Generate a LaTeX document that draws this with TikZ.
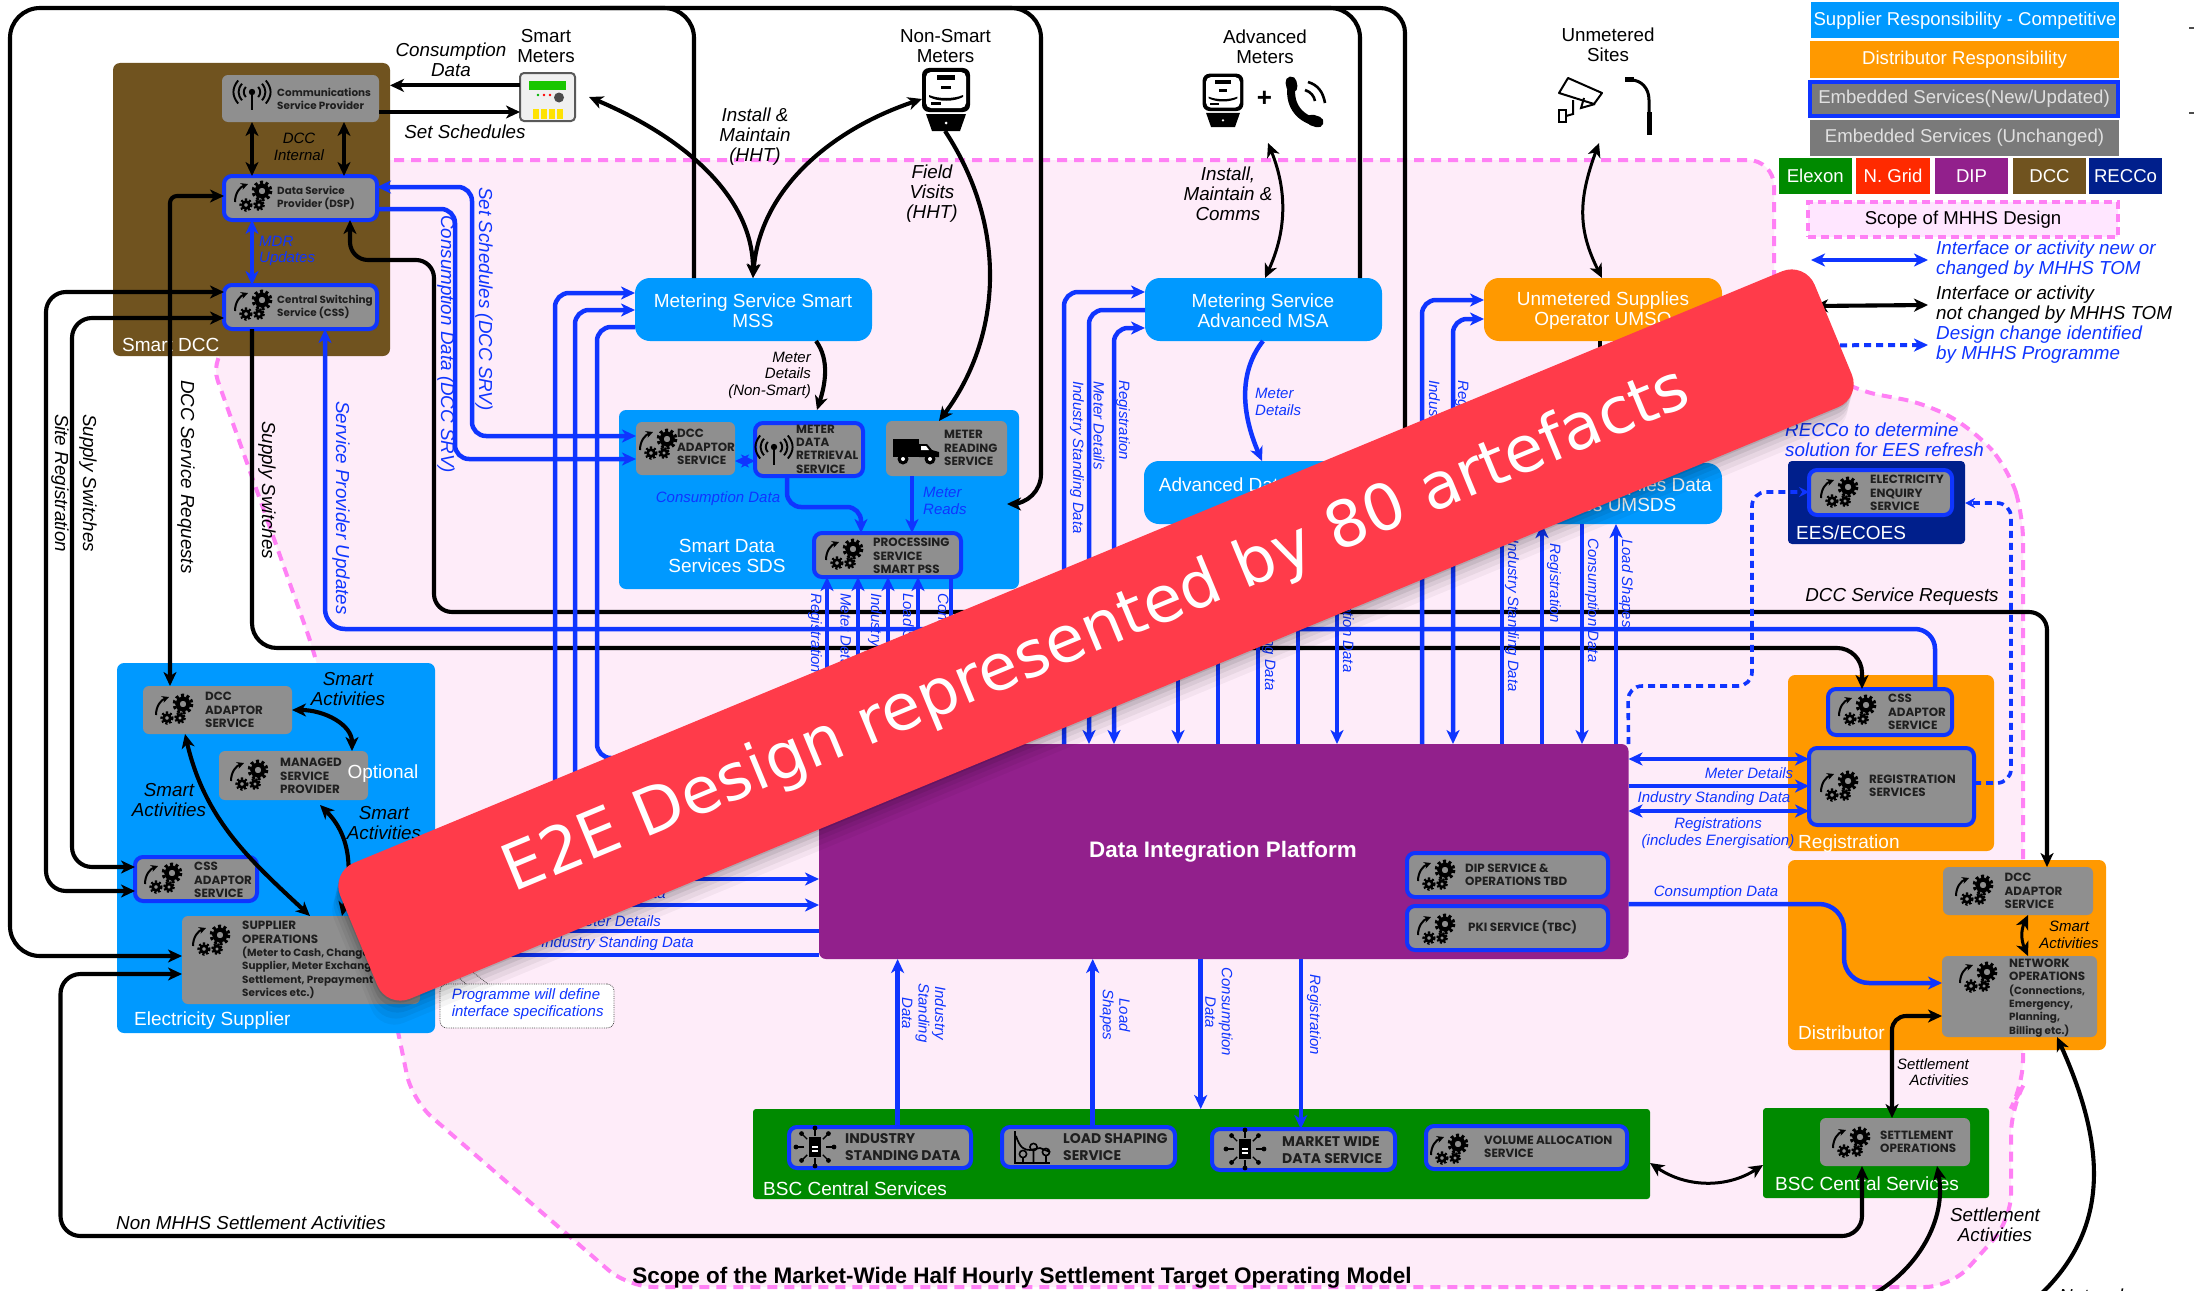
\documentclass[tikz,border=0pt]{standalone}
\usepackage{fontspec}
\setmainfont{Liberation Sans}
\newfontfamily\svcf{Poppins}
\newfontfamily\banf{DejaVu Sans}
\usetikzlibrary{arrows.meta,calc,shapes.geometric}
\definecolor{mblue}{HTML}{0099FF}
\definecolor{morange}{HTML}{FF9900}
\definecolor{sgray}{HTML}{8F8F8F}
\definecolor{lblue}{HTML}{0F35FF}
\definecolor{mbrown}{HTML}{70531F}
\definecolor{mpurple}{HTML}{92208C}
\definecolor{mgreen}{HTML}{008A00}
\definecolor{mnavy}{HTML}{001F8C}
\definecolor{mred}{HTML}{FF2A00}
\definecolor{scopefill}{HTML}{FEECF9}
\definecolor{legfill}{HTML}{FFE6FF}
\definecolor{scopeline}{HTML}{FF80F5}
\definecolor{banred}{HTML}{FF3B4A}
\newcommand\fsz[2]{\fontsize{#1pt}{#2pt}\selectfont}
\newcommand\cp[1]{{\fontsize{11.9pt}{13.4pt}\selectfont #1}}
\newcommand\bx[6]{\node[#6,minimum width={(#4-#2)*1pt},minimum height={(#5-#3)*1pt},inner sep=0pt,outer sep=0pt] (#1) at ({(#2+#4)/2},{(#3+#5)/2}) {};}
\tikzset{
  >={Stealth[length=14pt,width=13pt,inset=4pt]},
  blk/.style={line width=4.1pt,draw=black},
  blu/.style={line width=4.5pt,draw=lblue},
  dblu/.style={line width=3.6pt,draw=lblue,dash pattern=on 7pt off 5pt},
  cont/.style={rounded corners=7pt},
  svc/.style={fill=sgray,rounded corners=6pt},
  svn/.style={fill=sgray,draw=lblue,line width=4pt,rounded corners=8pt},
  wlab/.style={text=white,font=\fsz{19}{20},align=center,inner sep=0pt},
  wleft/.style={wlab,anchor=west},
  il/.style={font=\fsz{18.8}{20}\itshape,align=center,inner sep=0pt},
  sl/.style={font=\fsz{15}{16.5}\itshape,align=center,inner sep=0pt},
  bl/.style={il,text=lblue},
  bs/.style={sl,text=lblue},
  rv/.style={rotate=-90,anchor=west},
  rc/.style={rotate=-90,anchor=center},
  svct/.style={font=\svcf\bfseries\fsz{10.4}{13.4},anchor=west,align=left,inner sep=0pt,text=black!88},
  svcb/.style={font=\svcf\bfseries\fsz{14}{16.5},anchor=west,align=left,inner sep=0pt,text=black!88},
  legt/.style={font=\fsz{18.6}{20},inner sep=0pt,text=#1},
  gearicon/.pic={
    \draw[line width=3.2pt,dash pattern=on 3pt off 2.6pt] (0,0) circle (8.8);
    \draw[line width=4.2pt] (0,0) circle (5.6);
    \draw[line width=2.2pt,dash pattern=on 2.2pt off 1.9pt] (-16,14) circle (5.6);
    \draw[line width=2.8pt] (-16,14) circle (3.4);
    \draw[line width=2.1pt,dash pattern=on 2.1pt off 1.8pt] (-3,14) circle (5);
    \draw[line width=2.6pt] (-3,14) circle (3);
    \draw[line width=2pt,-{Stealth[length=7pt,width=7pt]}] (-27,11) .. controls (-27,2) and (-22,-4) .. (-14,-7);
  },
  antenna/.pic={
    \fill (0,-3) circle (3.2);
    \draw[line width=1.9pt] (0,-3) -- (0,15);
    \foreach \r in {8,13,18}{
      \draw[line width=1.9pt] (\r*0.77,-3-\r*0.64) .. controls (\r*1.12,-3-\r*0.2) and (\r*1.12,-3+\r*0.2) .. (\r*0.77,-3+\r*0.64);
      \draw[line width=1.9pt] (-\r*0.77,-3-\r*0.64) .. controls (-\r*1.12,-3-\r*0.2) and (-\r*1.12,-3+\r*0.2) .. (-\r*0.77,-3+\r*0.64);
    }
  },
  vanicon/.pic={
    \fill (-23,-11) rectangle (3,7);
    \fill (3,-6) -- (11,-6) -- (16,0) -- (23,2) -- (23,7) -- (3,7) -- cycle;
    \fill[white] (5,-4) -- (10,-4) -- (13,0) -- (5,0) -- cycle;
    \fill (-13,9) circle (5.5);\fill[white] (-13,9) circle (2);
    \fill (14,9) circle (5.5);\fill[white] (14,9) circle (2);
  },
  metericon/.pic={
    \fill[rounded corners=7pt] (-24,-31) rectangle (24,13);
    \fill[white,rounded corners=5pt] (-20,-27) rectangle (20,9);
    \fill (-9,-24) rectangle (9,-19);
    \fill (-5,-13) rectangle (5,-10);
    \fill (-17,-4) .. controls (-8,0) and (8,0) .. (17,-4) -- (17,-2) .. controls (8,3) and (-8,3) .. (-17,-2) -- cycle;
    \fill (-15,3) rectangle (-5,6);
    \fill (-20,15) -- (20,15) -- (14,32) -- (-14,32) -- cycle;
    \fill[white] (0,24) circle (1.5);
  },
  doc/.pic={
    \foreach \a in {0,45,...,315}{
      \draw[line width=1.4pt] (\a:11) -- (\a:19);
      \fill (\a:19) circle (2.4);
    }
    \fill (-6,-10) rectangle (6,10);
    \fill[white] (-3,-1) rectangle (3,1);
    \fill[white] (-3,3) rectangle (3,5);
  }
}
\begin{document}
\begin{tikzpicture}[x=1pt,y=-1pt]
\useasboundingbox (0,0) rectangle (2194,1290);
\fill[white] (0,0) rectangle (2194,1290);
% scope
\draw[fill=scopefill,draw=scopeline,line width=4pt,dash pattern=on 10pt off 7pt,rounded corners=26pt]
  (300,160) -- (1774,160) -- (1774,340) -- (1853,390) -- (1928,404) -- (1975,431) -- (2008,468) -- (2023,514) -- (2023,1086) -- (2011,1108) -- (2011,1220) -- (1951,1287) -- (628,1287) -- (412,1100) -- (399,1036) -- (316,657) -- (209,356) -- (300,300) -- cycle;
\node[font=\fsz{22.5}{24}\bfseries,inner sep=0pt] (scopetitle) at (1022,1278) {Scope of the Market-Wide Half Hourly Settlement Target Operating Model};
% containers
\bx{dcc}{113}{63}{390}{356}{cont,fill=mbrown}
\bx{sds}{619}{410}{1019}{589}{cont,fill=mblue}
\bx{sup}{117}{663}{435}{1033}{cont,fill=mblue}
\bx{dip}{819}{744}{1628.5}{959}{cont,fill=mpurple}
\bx{bscl}{753}{1109}{1650}{1199}{rounded corners=3pt,fill=mgreen}
\bx{bscr}{1763}{1108}{1989}{1198}{rounded corners=3pt,fill=mgreen}
\bx{reg}{1788}{675}{1994}{851}{cont,fill=morange}
\bx{dist}{1788}{860}{2106}{1050}{cont,fill=morange}
\bx{ees}{1788}{461}{1965}{544}{rounded corners=4pt,fill=mnavy}
\bx{mss}{635}{278}{872}{341}{rounded corners=15pt,fill=mblue}
\bx{msa}{1145}{278}{1382}{341}{rounded corners=15pt,fill=mblue}
\bx{umso}{1484}{278}{1722}{341}{rounded corners=15pt,fill=morange}
\bx{ads}{1144}{461}{1382}{524}{rounded corners=15pt,fill=mblue}
\bx{umsds}{1484}{463}{1722}{524}{rounded corners=15pt,fill=mblue}
\node[wlab] (tmss) at (753,311) {Metering Service Smart\\MSS};
\node[wlab] (tmsa) at (1263,311) {Metering Service\\Advanced MSA};
\node[wlab] (tumso) at (1603,311) {Unmetered Supplies\\Operator UMSO};
\node[wlab] (tads) at (1263,485) {Advanced Data Services};
\node[wlab] (tumsds) at (1603,495) {Unmetered Supplies Data\\Services UMSDS};
\node[wlab] (tsds) at (727,556) {Smart Data\\Services SDS};
\node[wleft] (tdcc) at (122,345) {Smart DCC};
\node[wleft] (tsup) at (134,1021) {Electricity Supplier};
\node[wleft] (treg) at (1798,844) {Registration};
\node[wleft] (tdist) at (1798,1033) {Distributor};
\node[wleft] (tees) at (1796,533) {EES/ECOES};
\node[wleft] (tbscl) at (763,1189) {BSC Central Services};
\node[wleft] (tbscr) at (1775,1184) {BSC Central Services};
\node[text=white,font=\fsz{22.4}{24}\bfseries,inner sep=0pt] (tdip) at (1223,852) {Data Integration Platform};
% services
\bx{csp}{222}{75}{379}{122}{svc}
\bx{dsp}{224}{176}{377}{220}{svn}
\bx{css}{224}{285}{377}{329}{svn}
\bx{sdcc}{636}{422}{735}{475}{svc}
\bx{mdr}{755}{423}{863}{476}{svn}
\bx{mrs}{886}{421}{1007}{476}{svc}
\bx{pss}{814}{533}{961}{577}{svn}
\bx{edcc}{143}{686}{292}{734}{svc}
\bx{msp}{219}{751}{368}{800}{svc}
\bx{ecss}{135}{857}{257}{901}{svn}
\bx{sops}{182}{916}{420}{1004}{svc}
\bx{dips}{1407}{853}{1608}{897}{svn}
\bx{pki}{1407}{906}{1608}{950}{svn}
\bx{isd}{789}{1127}{971}{1168}{svn}
\bx{lss}{1002}{1127}{1175}{1167}{svn}
\bx{mwd}{1212}{1129}{1395}{1170}{svn}
\bx{vas}{1426}{1126}{1627}{1169}{svn}
\bx{setops}{1820}{1118}{1970}{1166}{svc}
\bx{cssreg}{1828}{689}{1952}{735}{svn}
\bx{regs}{1809}{748}{1974}{825}{svn}
\bx{dadapt}{1943}{867}{2093}{915}{svc}
\bx{netops}{1942}{956}{2097}{1037}{svc}
\bx{eess}{1809}{470}{1952}{515}{svn}
% service text
\node[svct] (tcsp) at (277,99) {Communications\\Service Provider};
\node[svct] (tdsp) at (277,198) {Data Service\\Provider (DSP)};
\node[svct] (tcss) at (277,307) {Central Switching\\Service (CSS)};
\node[svct] (tsdcc) at (677,447) {\cp{DCC}\\\cp{ADAPTOR}\\\cp{SERVICE}};
\node[svct] (tmdr) at (796,449) {\cp{METER}\\\cp{DATA}\\\cp{RETRIEVAL}\\\cp{SERVICE}};
\node[svct] (tmrs) at (944,448) {\cp{METER}\\\cp{READING}\\\cp{SERVICE}};
\node[svct] (tpss) at (873,556) {\cp{PROCESSING}\\\cp{SERVICE}\\\cp{SMART PSS}};
\node[svct] (tedcc) at (205,710) {\cp{DCC}\\\cp{ADAPTOR}\\\cp{SERVICE}};
\node[svct] (tmsp) at (280,776) {\cp{MANAGED}\\\cp{SERVICE}\\\cp{PROVIDER}};
\node[svct] (tecss) at (194,880) {\cp{CSS}\\\cp{ADAPTOR}\\\cp{SERVICE}};
\node[svct] (tsops) at (242,960) {\cp{SUPPLIER}\\\cp{OPERATIONS}\\(Meter to Cash, Change of\\Supplier, Meter Exchange,\\Settlement, Prepayment\\Services etc.)};
\node[svct] (tdips) at (1465,875) {\cp{DIP SERVICE \&}\\\cp{OPERATIONS TBD}};
\node[svct] (tpki) at (1468,927) {\cp{PKI SERVICE (TBC)}};
\node[svcb] (tisd) at (845,1147) {INDUSTRY\\STANDING DATA};
\node[svcb] (tlss) at (1063,1147) {LOAD SHAPING\\SERVICE};
\node[svcb] (tmwd) at (1282,1150) {MARKET WIDE\\DATA SERVICE};
\node[svct] (tvas) at (1484,1147) {\cp{VOLUME ALLOCATION}\\\cp{SERVICE}};
\node[svct] (tsetops) at (1880,1142) {\cp{SETTLEMENT}\\\cp{OPERATIONS}};
\node[svct] (tcssreg) at (1888,712) {\cp{CSS}\\\cp{ADAPTOR}\\\cp{SERVICE}};
\node[svct] (tregs) at (1869,786) {\cp{REGISTRATION}\\\cp{SERVICES}};
\node[svct] (tdadapt) at (2004.5,891) {\cp{DCC}\\\cp{ADAPTOR}\\\cp{SERVICE}};
\node[svct] (tnetops) at (2009,998) {\cp{NETWORK}\\\cp{OPERATIONS}\\(Connections,\\Emergency,\\Planning,\\Billing etc.)};
\node[svct] (teess) at (1870,493) {\cp{ELECTRICITY}\\\cp{ENQUIRY}\\\cp{SERVICE}};
% icons
\pic at (252,95) {antenna};
\pic at (262,191) {gearicon};
\pic at (262,300) {gearicon};
\pic at (667,439) {gearicon};
\pic at (774,450) {antenna};
\pic at (916,450) {vanicon};
\pic at (853,549) {gearicon};
\pic at (183,704) {gearicon};
\pic at (258,770) {gearicon};
\pic at (172,873) {gearicon};
\pic at (220,935) {gearicon};
\pic at (1445,870) {gearicon};
\pic at (1445,924) {gearicon};
\pic at (815,1147) {doc};
\pic at (1245,1149) {doc};
\pic at (1458,1144) {gearicon};
\pic at (1860,1137) {gearicon};
\pic at (1866,705) {gearicon};
\pic at (1848,781) {gearicon};
\pic at (1983,885) {gearicon};
\pic at (1987,972) {gearicon};
\pic at (1848,487) {gearicon};
% load shaping icon
\draw[line width=1.7pt] (1015,1131) -- (1015,1163) -- (1050,1163);
\draw[line width=1.7pt] (1016,1136) .. controls (1020,1148) and (1024,1150) .. (1030,1150) -- (1040,1148) -- (1050,1152);
\foreach \cx/\cy in {1023/1154,1033.5/1147,1046/1152}{\draw[line width=1.6pt] (\cx,\cy) circle (3.6) (\cx,\cy+3.6) -- (\cx,1163);}
% meters and sites
\bx{smeter}{520}{73}{575}{121}{fill=black!6,draw=black!65,line width=2pt,rounded corners=4pt}
\fill[green!75!black!90!yellow] (529,81) rectangle (566,90);
\fill[red] (544,95) circle (1.3) (550,95) circle (1.3);
\fill[green!70!black] (538,95) circle (1.3);
\fill[black!70] (559,97.5) circle (5);
\foreach \x in {533,541,549,557}{\fill[yellow!85!orange] (\x,109) rectangle (\x+6,119);}
\node[font=\fsz{18.8}{20},align=center,inner sep=0pt] (tsm) at (546,46.5) {Smart\\Meters};
\bx{nsm}{922}{68}{971}{131}{}
\pic at (946,99) {metericon};
\node[font=\fsz{18.8}{20},align=center,inner sep=0pt] (tnsm) at (945.5,46.5) {Non-Smart\\Meters};
\bx{advm}{1202}{74}{1326}{126}{}
\pic[scale=.85] at (1223,100) {metericon};
\node[font=\fsz{26}{26}\bfseries,inner sep=0pt] (plus) at (1264.5,99) {+};
\draw[line width=8pt,line cap=round] (1292,84) .. controls (1288,103) and (1298,118) .. (1316,122);
\draw[line width=11pt,line cap=round] (1291,82) -- (1292,87) (1312,120) -- (1318,122);
\draw[line width=2.6pt] (1305,90) .. controls (1311,92) and (1314,96) .. (1315,101);
\draw[line width=2.6pt] (1308,82) .. controls (1318,85) and (1323,92) .. (1325,103);
\node[font=\fsz{18.8}{20},align=center,inner sep=0pt] (tadv) at (1265,46.5) {Advanced\\Meters};
\bx{sites}{1557}{78}{1652}{135}{}
\draw[line width=2pt,line join=round] (1558,78) ++(10,0) -- (1602,93) -- (1594,104) -- (1559,93) -- cycle;
\draw[line width=2pt] (1584,98) -- (1581,108) -- (1595,104);
\draw[line width=2pt] (1573,100) -- (1573,114) -- (1566,116);
\draw[line width=2pt] (1559,110) rectangle (1566,122);
\draw[line width=3pt] (1649,112) -- (1649,100) .. controls (1649,88) and (1641,80) .. (1631,80);
\draw[line width=5pt] (1649,112) -- (1649,135);
\fill (1625,77) rectangle (1634,82);
\node[font=\fsz{18.8}{20},align=center,inner sep=0pt] (tsites) at (1608,45) {Unmetered\\Sites};
% connectors: black
\draw[blk,<-,rounded corners=30pt] (sops.west |- 0,956) -- (10,956) -- (10,8) -- (694,8) -- (694,0 |- mss.north);
\draw[blk,<-,rounded corners=30pt] (mrs.east |- 0,504) -- (1041,504) -- (1041,8) -- (600,8);
\draw[blk,rounded corners=30pt] (1360,0 |- msa.north) -- (1360,8) -- (900,8);
\draw[blk,rounded corners=25pt] (1405,450) -- (1405,8) -- (1200,8);
\draw[blk,<->,rounded corners=18pt] (350,0 |- dsp.south) -- (350,260) -- (434,260) -- (434,612) -- (2047,612) -- (2047,0 |- dadapt.north);
\draw[blk,->,rounded corners=25pt] (252,0 |- css.south) -- (252,648) -- (1862,648) -- (1862,0 |- cssreg.north);
\draw[blk,<->,rounded corners=7pt] (dsp.west |- 0,196) -- (170,196) -- (170,0 |- edcc.north);
\draw[blk,<->,rounded corners=20pt] (css.west |- 0,292) -- (46,292) -- (46,891) -- (ecss.west |- 0,891);
\draw[blk,<->,rounded corners=20pt] (css.west |- 0,318) -- (72,318) -- (72,867) -- (ecss.west |- 0,867);
\draw[blk,->] (smeter.west |- 0,85.4) -- (dcc.east |- 0,85.4);
\draw[blk,->] (csp.east |- 0,112) -- (smeter.west |- 0,112);
\draw[blk,<->] (252,0 |- csp.south) -- (252,0 |- dsp.north);
\draw[blk,<->] (344,0 |- csp.south) -- (344,0 |- dsp.north);
\draw[blk,<->] (753,0 |- mss.north) .. controls (753,200) and (690,140) .. (589,0 |- smeter.east);
\draw[blk,<->] (753,0 |- mss.north) .. controls (760,190) and (830,130) .. (nsm.west |- 0,99);
\draw[blk,->] (816,0 |- mss.south) .. controls (830,360) and (825,385) .. (817,0 |- sds.north);
\draw[blk,->] (945,0 |- nsm.south) .. controls (1010,230) and (1000,340) .. (939,0 |- mrs.north);
\draw[blk,<->,line width=3pt] (1268,143) .. controls (1287,190) and (1287,230) .. (1265,0 |- msa.north);
\draw[blk,<->,line width=3pt] (1599,143) .. controls (1578,200) and (1578,230) .. (1602,0 |- umso.north);
\draw[blk] (1600,0 |- umso.south) -- (1600,400);
\draw[blk,<->] (edcc.east |- 0,710) .. controls (325,710) and (352,725) .. (352,0 |- msp.north);
\draw[blk,<->] (185,0 |- edcc.south) .. controls (205,820) and (250,860) .. (310,0 |- sops.north);
\draw[blk,<->] (320,805) .. controls (355,840) and (350,880) .. (342,0 |- sops.north);
\draw[blk,<->,rounded corners=20pt] (sops.west |- 0,974) -- (60.5,974) -- (60.5,1236) -- (1862,1236) -- (1862,0 |- setops.south);
\draw[blk,<->,rounded corners=14pt] (netops.west |- 0,1016) -- (1892,1016) -- (1892,0 |- setops.north);
\draw[blk,->] (1872,1295) .. controls (1917,1270) and (1947,1220) .. (1937,0 |- setops.south);
\draw[blk,->] (2040,1295) .. controls (2108,1230) and (2108,1150) .. (2057,0 |- netops.south);
\draw[blk,<->,line width=3pt] (2028,0 |- dadapt.south) .. controls (2021,930) and (2021,940) .. (2028,0 |- netops.north);
\draw[blk,<->,line width=3pt] (bscl.east |- 0,1163) .. controls (1687,1188) and (1727,1188) .. (bscr.west |- 0,1165);
% connectors: blue
\draw[blu,<->] (252,0 |- dsp.south) -- (252,0 |- css.north);
\draw[blu,<->,rounded corners=14pt] (dsp.east |- 0,187) -- (472,187) -- (472,436) -- (sdcc.west |- 0,436);
\draw[blu,->,rounded corners=14pt] (dsp.east |- 0,209) -- (455,209) -- (455,459) -- (sdcc.west |- 0,459);
\draw[blu,<-,rounded corners=20pt] (325,0 |- css.south) -- (325,629) -- (1935,629) -- (1935,0 |- cssreg.north);
\draw[blu,->,rounded corners=14pt] (555,860) -- (555,293) -- (mss.west |- 0,293);
\draw[blu,->,rounded corners=14pt] (575,860) -- (575,310) -- (mss.west |- 0,310);
\draw[blu,rounded corners=14pt] (700,758) -- (597,758) -- (597,327) -- (mss.west |- 0,327);
\draw[blu,<->] (sdcc.east |- 0,461) -- (mdr.west |- 0,461);
\draw[blu,->,rounded corners=14pt] (787,0 |- mdr.south) -- (787,507) -- (861,507) -- (861,0 |- pss.north);
\draw[blu,->] (912,0 |- mrs.south) -- (912,0 |- pss.north);
\foreach \x in {827,858,888,918}{\draw[blu,->] (\x,0 |- dip.north) -- (\x,0 |- pss.south);}
\draw[blu] (951,0 |- dip.north) -- (951,0 |- pss.south);
\draw[blu,->,rounded corners=14pt] (1064,0 |- dip.north) -- (1064,292) -- (msa.west |- 0,292);
\draw[blu,->,rounded corners=14pt] (msa.west |- 0,310) -- (1089,310) -- (1089,0 |- dip.north);
\draw[blu,<->,rounded corners=14pt] (msa.west |- 0,328) -- (1114,328) -- (1114,0 |- dip.north);
\draw[blu,->] (1263,0 |- msa.south) .. controls (1240,370) and (1240,410) .. (1262,0 |- ads.north);
\foreach \x in {1218,1258,1298}{\draw[blu] (\x,0 |- ads.south) -- (\x,0 |- dip.north);}
\foreach \x in {1178,1337}{\draw[blu,->] (\x,0 |- ads.south) -- (\x,0 |- dip.north);}
\draw[blu,->,rounded corners=14pt] (1422,0 |- dip.north) -- (1422,300) -- (umso.west |- 0,300);
\draw[blu,<->,rounded corners=14pt] (1453,0 |- dip.north) -- (1453,319) -- (umso.west |- 0,319);
\draw[blu] (1502,0 |- umsds.south) -- (1502,0 |- dip.north);
\draw[blu,->] (1542,0 |- dip.north) -- (1542,0 |- umsds.south);
\draw[blu,->] (1582,0 |- umsds.south) -- (1582,0 |- dip.north);
\draw[blu,->] (1616,0 |- dip.north) -- (1616,0 |- umsds.south);
\draw[blu,->] (420,879) -- (dip.west |- 0,879);
\draw[blu,->] (420,905) -- (dip.west |- 0,905);
\draw[blu] (420,931) -- (dip.west |- 0,931);
\draw[blu] (420,955) -- (dip.west |- 0,955);
\draw[blu,<->] (dip.east |- 0,759) -- (regs.west |- 0,759);
\draw[blu,->] (dip.east |- 0,786) -- (regs.west |- 0,786);
\draw[blu,<->] (dip.east |- 0,811) -- (regs.west |- 0,811);
\draw[blu,->,rounded corners=25pt] (dip.east |- 0,904) -- (1844,904) -- (1844,983) -- (netops.west |- 0,983);
\draw[blu,->] (897.6,0 |- isd.north) -- (897.6,0 |- dip.south);
\draw[blu,->] (1092.7,0 |- lss.north) -- (1092.7,0 |- dip.south);
\draw[blu,->] (1200.7,0 |- dip.south) -- (1200.7,0 |- bscl.north);
\draw[blu,->] (1300.8,0 |- dip.south) -- (1300.8,0 |- mwd.north);
\draw[dblu,-{Stealth[length=10pt,width=10pt]},rounded corners=14pt] (dip.east |- 0,744) -- (1628,686) -- (1752,686) -- (1752,492) -- (eess.west |- 0,492);
\draw[dblu,-{Stealth[length=10pt,width=10pt]},rounded corners=14pt] (regs.east |- 0,783) -- (2011,783) -- (2011,503) -- (ees.east |- 0,503);
% labels
\node[il] (lcons) at (451,59.5) {Consumption\\Data};
\node[il] (lsets) at (465,132) {Set Schedules};
\node[sl] (ldcci) at (299,147) {DCC\\Internal};
\node[sl,text=lblue,anchor=west,align=left] (lmdr) at (259,251) {MDR\\Updates};
\node[il,rc] (lsite) at (60,483) {Site Registration};
\node[il,rc] (lsw1) at (88,483) {Supply Switches};
\node[il,rc] (ldsr) at (186,477) {DCC Service Requests};
\node[il,rc] (lsw2) at (267,490) {Supply Switches};
\node[bl,rc] (lspu) at (341,508) {Service Provider Updates};
\node[bl,rc] (lss1) at (484,299) {Set Schedules (DCC SRV)};
\node[bl,rc] (lcd1) at (446,344) {Consumption Data (DCC SRV)};
\node[il] (linst) at (755,137) {Install \&\\Maintain\\(HHT)};
\node[il] (lfv) at (932,194) {Field\\Visits\\(HHT)};
\node[il] (limc) at (1228,194) {Install,\\Maintain \&\\Comms};
\node[sl,align=right,anchor=east] (lmd0) at (811,375) {Meter\\Details\\(Non-Smart)};
\node[bs] (lcd2) at (718,499) {Consumption Data};
\node[bs,anchor=west,align=left] (lmr) at (923,501) {Meter\\Reads};
\node[bs,anchor=west,align=left] (lmd1) at (1255,402) {Meter\\Details};
\foreach \nn/\x/\y/\t in {a/815/593/Registration,b/846/593/Meter Details,c/875/593/Industry Standing Data,d/907/593/Load Shapes,e/942/593/Consumption Data,f/1077/381/Industry Standing Data,g/1099/381/Meter Details,h/1123/380/Registration,i/1433/380/Industry Standing Data,j/1462/380/Registration,k/1512/539/Industry Standing Data,l/1554/543/Registration,m/1592/538/Consumption Data,n/1626/539/Load Shapes,o/1269/538/Industry Standing Data,p/1347/548/Consumption Data}{
  \node[bs,rv] (lv\nn) at (\x,\y) {\t};
}
\node[bs,anchor=east] (lh1) at (666,895) {Consumption Data};
\node[bs,anchor=east] (lh2) at (661,921) {Meter Details};
\node[bs,anchor=east] (lh3) at (694,944) {Industry Standing Data};
\node[bs,rc] (lb1) at (924,1013) {Industry\\Standing\\Data};
\node[bs,rc] (lb2) at (1115,1015) {Load\\Shapes};
\node[bs,rc] (lb3) at (1219,1012) {Consumption\\Data};
\node[bs,rc] (lb4) at (1314,1015) {Registration};
\node[il] (lsa1) at (348,689) {Smart\\Activities};
\node[il] (lsa2) at (169,800) {Smart\\Activities};
\node[il] (lsa3) at (384,823) {Smart\\Activities};
\node[wlab] (lopt) at (383,774) {Optional};
\node[il] (lnon) at (251,1223) {Non MHHS Settlement Activities};
\node[il] (lsa4) at (1995,1225) {Settlement\\Activities};
\node[sl,align=right,anchor=east] (lsa5) at (1969,1072) {Settlement\\Activities};
\node[sl] (lsa6) at (2069,935) {Smart\\Activities};
\node[il,anchor=base west] (lnet) at (2059,1302) {Network};
\node[bs] (lm1) at (1749,773) {Meter Details};
\node[bs] (lm2) at (1714,799) {Industry Standing Data};
\node[bs] (lm3) at (1718,833) {Registrations\\(includes Energisation)};
\node[bs] (lm4) at (1716,893) {Consumption Data};
\node[il] (ldcr) at (1902,597) {DCC Service Requests};
\node[bl,anchor=west,align=left] (lrecc) at (1785,440) {RECCo to determine\\solution for EES refresh};
% callout
\bx{call}{440}{984}{614}{1028}{fill=white,draw=black!70,line width=.8pt,densely dotted,rounded corners=7pt}
\draw[black!70,line width=.8pt,densely dotted] (466,0 |- call.north) -- (450,970);
\draw[black!70,line width=.8pt,densely dotted] (488,0 |- call.north) -- (470,970);
\node[bs,anchor=west,align=left] (lcall) at (451.6,1004) {Programme will define\\interface specifications};
% legend
\bx{lg1}{1811}{2.5}{2119}{38.5}{fill=mblue}
\bx{lg2}{1810}{41.5}{2119}{77.5}{fill=morange}
\bx{lg3}{1810}{82}{2118}{116}{fill=black!52,draw=lblue,line width=3.5pt}
\bx{lg4}{1810}{120}{2119}{155.5}{fill=black!52}
\bx{lg5}{1779}{158}{1851.5}{194}{fill=mgreen}
\bx{lg6}{1856}{158}{1930}{194}{fill=mred}
\bx{lg7}{1935}{158}{2008}{194}{fill=mpurple}
\bx{lg8}{2013}{158}{2086}{194}{fill=mbrown}
\bx{lg9}{2089}{158}{2162}{194}{fill=mnavy}
\bx{lg10}{1808}{202}{2118}{237}{fill=legfill,draw=scopeline,line width=4pt,dash pattern=on 8pt off 5pt}
\node[legt=white] (tl1) at (lg1) {Supplier Responsibility - Competitive};
\node[legt=white] (tl2) at (lg2) {Distributor Responsibility};
\node[legt=white!88!black] (tl3) at (lg3) {Embedded Services(New/Updated)};
\node[legt=white!88!black] (tl4) at (lg4) {Embedded Services (Unchanged)};
\node[legt=white] (tl5) at (lg5) {Elexon};
\node[legt=white] (tl6) at (lg6) {N. Grid};
\node[legt=white] (tl7) at (lg7) {DIP};
\node[legt=white] (tl8) at (lg8) {DCC};
\node[legt=white] (tl9) at (lg9) {RECCo};
\node[legt=black] (tl10) at (lg10) {Scope of MHHS Design};
\node[bl,anchor=west,align=left] (tk1) at (1936,260) {Interface or activity new or\\changed by MHHS TOM};
\node[il,anchor=west,align=left] (tk2) at (1936,305) {Interface or activity\\not changed by MHHS TOM};
\node[bl,anchor=west,align=left] (tk3) at (1936,345) {Design change identified\\by MHHS Programme};
\draw[blu,<->] (1811,260) -- (1928,0 |- tk1.west);
\draw[blk,<->] (1814,306) -- (1928,0 |- tk2.west);
\draw[dblu,line width=4pt,<->] (1807,345.4) -- (1928,0 |- tk3.west);
\draw[black!70,line width=1.5pt] (2189,28) -- (2194,28) (2189,113) -- (2194,113);
% banner
\foreach \s/\o in {2/0.10,7/0.08,12/0.06,18/0.05,24/0.04}{
  \node[rotate=22.5,minimum width=1596pt,minimum height=147pt,rounded corners=25pt,fill=black,opacity=\o] (sh\s) at (1096-\s*0.25,635+\s) {};
}
\node[rotate=22.5,minimum width=1596pt,minimum height=147pt,rounded corners=25pt,fill=banred] (banner) at (1096,635) {};
\node[rotate=22.5,text=white,font=\banf\fsz{64}{64},inner sep=0pt] (bantext) at (1097,632) {E2E Design represented by 80 artefacts};
\end{tikzpicture}
\end{document}
